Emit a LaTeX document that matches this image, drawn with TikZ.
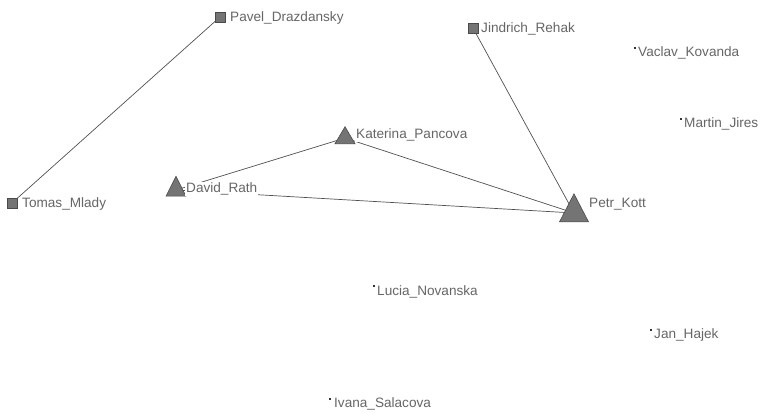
\documentclass[tikz,border=0pt]{standalone}
\usepackage{fontspec}
\setmainfont{Liberation Sans}
\usetikzlibrary{shapes.geometric, backgrounds}
\definecolor{Marker}{HTML}{747474}
\definecolor{Rim}{HTML}{4A4A4A}
\definecolor{Label}{HTML}{666666}
\definecolor{Link}{HTML}{505050}
\tikzset{
    actor/.style={rectangle, fill=Marker, draw=Rim, line width=0.6pt, minimum size=10pt, inner sep=0pt},
    leader/.style={isosceles triangle, isosceles triangle stretches, shape border rotate=90, fill=Marker, draw=Rim, line width=0.6pt, inner sep=0pt},
    loner/.style={rectangle, fill=black!80, minimum size=2.5pt, inner sep=0pt},
    tag/.style={anchor=west, fill=white, text=Label, inner sep=1pt, font=\fontsize{13.6pt}{16pt}\selectfont},
    tie/.style={draw=Link, line width=0.7pt},
}
\begin{document}
\begin{tikzpicture}[x=1pt, y=-1pt]
    \useasboundingbox (0,0) rectangle (763,413);

    % Markers
    \node[actor] (pavel) at (220,17) {};
    \node[actor] (tomas) at (12,203) {};
    \node[actor] (jindrich) at (473,28) {};
    \node[leader, minimum width=20pt, minimum height=17pt] (katerina) at (345,138) {};
    \node[leader, minimum width=20pt, minimum height=20pt] (david) at (176,190) {};
    \node[leader, minimum width=29pt, minimum height=28pt] (petr) at (574,213) {};
    \node[loner] (vaclav) at (635,48) {};
    \node[loner] (martin) at (681,119) {};
    \node[loner] (lucia) at (374,286) {};
    \node[loner] (jan) at (651,330) {};
    \node[loner] (ivana) at (330,399) {};

    % Names
    \node[tag] (pavelL) at (229,18) {Pavel\_Drazdansky};
    \node[tag] (tomasL) at (21,204) {Tomas\_Mlady};
    \node[tag] (jindrichL) at (480,29) {Jindrich\_Rehak};
    \node[tag] (katerinaL) at (355,135) {Katerina\_Pancova};
    \node[tag] (davidL) at (185,189) {David\_Rath};
    \node[tag] (petrL) at (588,204) {Petr\_Kott};
    \node[tag] (vaclavL) at (637,53) {Vaclav\_Kovanda};
    \node[tag] (martinL) at (683,124) {Martin\_Jires};
    \node[tag] (luciaL) at (376,292) {Lucia\_Novanska};
    \node[tag] (janL) at (653,335) {Jan\_Hajek};
    \node[tag] (ivanaL) at (333,404) {Ivana\_Salacova};

    % Ties
    \begin{scope}[on background layer]
        \draw[tie] (pavel.center) -- (tomas.center);
        \draw[tie] (jindrich.center) -- (petr.center);
        \draw[tie] (david.center) -- (katerina.center);
        \draw[tie] (katerina.center) -- (petr.center);
        \draw[tie] (david.center) -- (petr.center);
    \end{scope}
\end{tikzpicture}
\end{document}
